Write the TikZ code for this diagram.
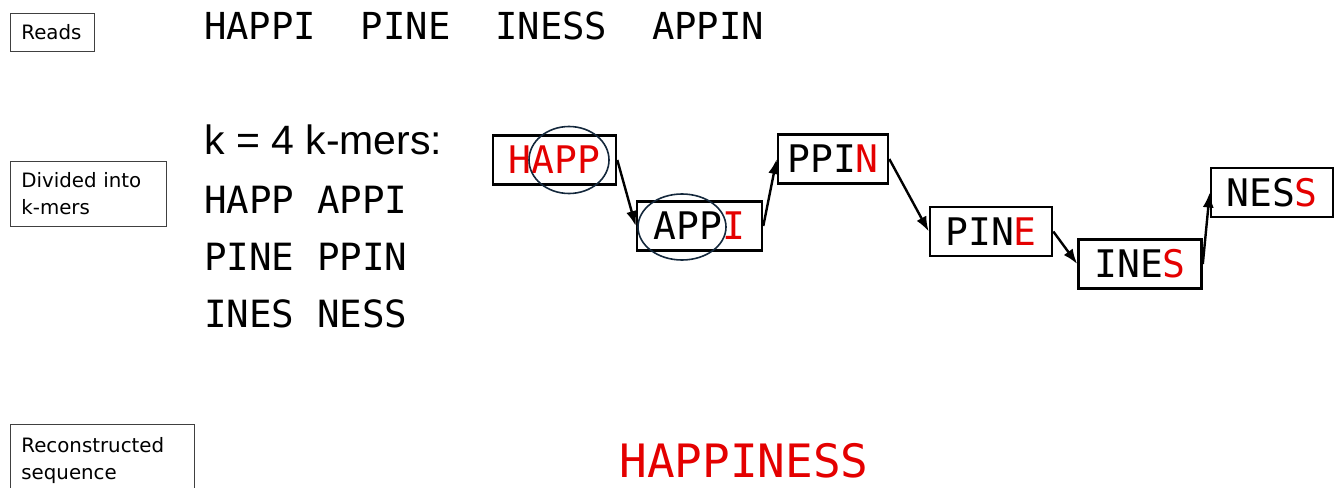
\documentclass[tikz,border=0pt]{standalone}
\usepackage{fontspec}
\setmainfont{DejaVu Sans}
\setmonofont{DejaVu Sans Mono}
\newfontfamily\titlefont{Liberation Sans}
\usetikzlibrary{shapes.geometric,arrows.meta,positioning}
\definecolor{kred}{RGB}{228,0,0}
\definecolor{ringblue}{RGB}{20,40,60}
\tikzstyle{steplabel} = [rectangle, draw=black!75, line width=0.8pt, anchor=north west, align=left, inner xsep=11pt, inner ysep=0pt, font=\fontsize{19.8}{27}\selectfont]
\tikzstyle{kmer} = [rectangle, draw=black, line width=2.6pt, minimum width=123pt, minimum height=49pt, inner xsep=4pt, font=\ttfamily\fontsize{38}{40}\selectfont]
\tikzstyle{seq} = [inner sep=0pt, anchor=base west, font=\ttfamily\fontsize{37.5}{40}\selectfont]
\tikzstyle{overlap} = [ellipse, draw=ringblue, line width=1.6pt, inner sep=0pt]
\tikzstyle{link} = [line width=2.4pt, -{Latex[length=15pt,width=11pt]}]
\newcommand{\nt}[1]{\textcolor{kred}{#1}}

\begin{document}
\begin{tikzpicture}[x=1pt, y=-1pt]
\useasboundingbox (0,0) rectangle (1343,487);

% Step labels
\node[steplabel, minimum height=38pt, text width=62pt] (readslbl) at (10,13) {Reads};
\node[steplabel, minimum height=65pt, text width=134pt] (kmerlbl) at (10,161) {Divided into\\k-mers};
\node[steplabel, minimum height=72pt, text width=162pt] (reconlbl) at (10,424) {Reconstructed\\sequence};

% Reads
\node[seq, font=\ttfamily\fontsize{37.2}{40}\selectfont] (reads) at (204,40) {HAPPI\ \ PINE\ \ INESS\ \ APPIN};

% k-mers (k = 4)
\node[inner sep=0pt, anchor=base west, font=\titlefont\fontsize{41}{44}\selectfont] (ktitle) at (204,154) {k = 4 k-mers:};
\node[seq] (row1) at (204,213) {HAPP APPI};
\node[seq] (row2) at (204,270) {PINE PPIN};
\node[seq] (row3) at (204,327) {INES NESS};

% Overlap chain
\node[kmer] (happ) at (554.5,160) {\nt{HAPP}};
\node[kmer, minimum width=125pt] (appi) at (699.5,226) {APP\nt{I}};
\node[kmer, minimum width=110pt] (ppin) at (833,159) {PPI\nt{N}};
\node[kmer, minimum width=122pt] (pine) at (991,231.5) {PIN\nt{E}};
\node[kmer] (ines) at (1140,264) {INE\nt{S}};
\node[kmer, minimum width=122pt] (ness) at (1272,192.5) {NES\nt{S}};

\draw[link] (happ.east) -- (appi.west);
\draw[link] (appi.east) -- (ppin.west);
\draw[link] (ppin.east) -- (pine.west);
\draw[link] (pine.east) -- (ines.west);
\draw[link] (ines.east) -- (ness.west);

% Shared APP between HAPP and APPI
\node[overlap, minimum width=80pt, minimum height=67pt] (ringA) at (569,160) {};
\node[overlap, minimum width=88pt, minimum height=66pt] (ringB) at (682,227) {};

% Result
\node[inner sep=0pt, anchor=base, font=\ttfamily\fontsize{46}{50}\selectfont, text=kred] (result) at (744,477) {HAPPINESS};

\end{tikzpicture}
\end{document}
